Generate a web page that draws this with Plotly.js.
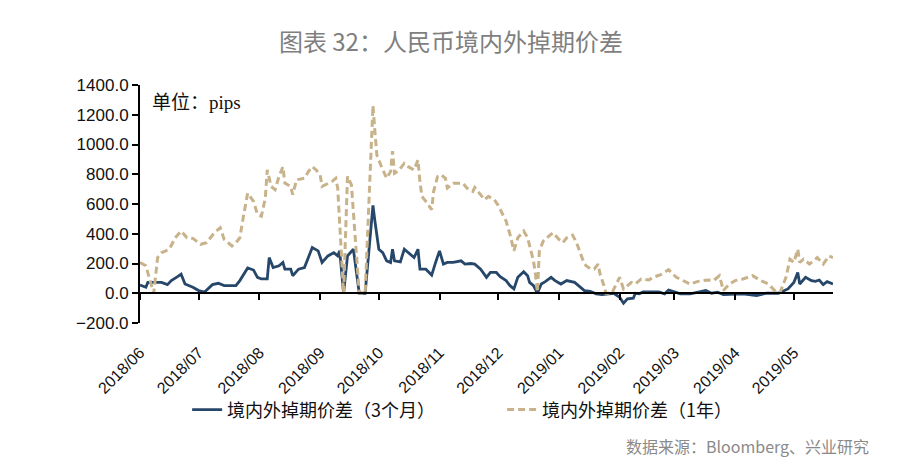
<!DOCTYPE html>
<html>
<head>
<meta charset="utf-8">
<script src="https://cdn.plot.ly/plotly-3.0.1.min.js"></script>
<style>html,body{margin:0;padding:0;background:#fff;}#chart{width:900px;height:469px;}</style>
</head>
<body>
<div id="chart"></div>
<script>
// 境内外掉期价差（3个月）
const dates3m = ["2018-06-01","2018-06-04","2018-06-05","2018-06-09","2018-06-12","2018-06-15","2018-06-17","2018-06-20","2018-06-22","2018-06-24","2018-06-28","2018-07-01","2018-07-04","2018-07-08","2018-07-11","2018-07-14","2018-07-20","2018-07-22","2018-07-26","2018-07-29","2018-07-31","2018-08-02","2018-08-05","2018-08-06","2018-08-08","2018-08-11","2018-08-13","2018-08-14","2018-08-17","2018-08-18","2018-08-21","2018-08-24","2018-08-28","2018-08-31","2018-09-02","2018-09-05","2018-09-08","2018-09-10","2018-09-11","2018-09-13","2018-09-15","2018-09-18","2018-09-21","2018-09-24","2018-09-28","2018-09-29","2018-10-01","2018-10-03","2018-10-05","2018-10-07","2018-10-08","2018-10-09","2018-10-12","2018-10-14","2018-10-16","2018-10-19","2018-10-21","2018-10-22","2018-10-25","2018-10-28","2018-10-30","2018-11-01","2018-11-03","2018-11-05","2018-11-08","2018-11-12","2018-11-14","2018-11-17","2018-11-19","2018-11-22","2018-11-25","2018-11-27","2018-11-30","2018-12-02","2018-12-05","2018-12-07","2018-12-09","2018-12-11","2018-12-14","2018-12-16","2018-12-17","2018-12-19","2018-12-21","2018-12-23","2018-12-25","2018-12-28","2018-12-30","2019-01-02","2019-01-05","2019-01-09","2019-01-11","2019-01-14","2019-01-17","2019-01-20","2019-01-23","2019-01-26","2019-01-29","2019-02-01","2019-02-03","2019-02-05","2019-02-08","2019-02-09","2019-02-11","2019-02-13","2019-02-17","2019-02-21","2019-02-24","2019-02-26","2019-03-01","2019-03-04","2019-03-09","2019-03-13","2019-03-17","2019-03-20","2019-03-23","2019-03-26","2019-03-31","2019-04-05","2019-04-12","2019-04-17","2019-04-23","2019-04-28","2019-05-01","2019-05-03","2019-05-04","2019-05-07","2019-05-10","2019-05-12","2019-05-14","2019-05-16","2019-05-18","2019-05-21"];
const values3m = [55,40,73,73,73,58,85,110,128,62,40,18,8,58,67,51,51,85,170,156,107,96,96,240,173,185,207,162,162,118,162,173,307,285,207,251,273,251,285,0,251,296,0,0,590,485,296,273,218,207,296,218,211,296,273,240,296,162,162,122,207,285,196,207,207,218,196,200,196,162,107,140,140,112,85,51,29,107,145,118,73,51,0,62,78,107,85,62,85,73,51,18,13,-4,-9,-4,0,-27,-67,-38,-33,0,-4,9,11,9,-4,22,9,-4,-4,9,18,0,7,-9,-9,-4,-15,0,0,29,73,140,62,107,85,80,89,58,78,62];

// 境内外掉期价差（1年）
const dates1y = ["2018-06-01","2018-06-04","2018-06-08","2018-06-10","2018-06-12","2018-06-16","2018-06-19","2018-06-22","2018-06-25","2018-06-28","2018-07-02","2018-07-05","2018-07-09","2018-07-12","2018-07-14","2018-07-18","2018-07-20","2018-07-22","2018-07-24","2018-07-26","2018-07-29","2018-07-31","2018-08-02","2018-08-04","2018-08-05","2018-08-07","2018-08-09","2018-08-11","2018-08-13","2018-08-14","2018-08-17","2018-08-18","2018-08-20","2018-08-24","2018-08-26","2018-08-28","2018-08-30","2018-09-01","2018-09-02","2018-09-04","2018-09-07","2018-09-09","2018-09-10","2018-09-13","2018-09-15","2018-09-17","2018-09-21","2018-09-24","2018-09-28","2018-09-29","2018-09-30","2018-10-02","2018-10-05","2018-10-07","2018-10-08","2018-10-09","2018-10-11","2018-10-14","2018-10-16","2018-10-19","2018-10-21","2018-10-22","2018-10-23","2018-10-25","2018-10-28","2018-10-29","2018-10-31","2018-11-02","2018-11-04","2018-11-05","2018-11-08","2018-11-11","2018-11-13","2018-11-15","2018-11-18","2018-11-19","2018-11-22","2018-11-24","2018-11-26","2018-11-29","2018-12-01","2018-12-02","2018-12-05","2018-12-07","2018-12-09","2018-12-11","2018-12-14","2018-12-16","2018-12-17","2018-12-19","2018-12-20","2018-12-21","2018-12-22","2018-12-24","2018-12-27","2018-12-29","2019-01-01","2019-01-03","2019-01-05","2019-01-08","2019-01-10","2019-01-12","2019-01-14","2019-01-16","2019-01-19","2019-01-21","2019-01-22","2019-01-24","2019-01-25","2019-01-28","2019-01-30","2019-02-01","2019-02-03","2019-02-07","2019-02-09","2019-02-12","2019-02-16","2019-02-18","2019-02-22","2019-02-26","2019-03-02","2019-03-06","2019-03-09","2019-03-13","2019-03-18","2019-03-21","2019-03-24","2019-03-26","2019-03-29","2019-04-01","2019-04-05","2019-04-10","2019-04-14","2019-04-18","2019-04-22","2019-04-24","2019-04-27","2019-04-29","2019-05-01","2019-05-03","2019-05-04","2019-05-06","2019-05-09","2019-05-13","2019-05-16","2019-05-19","2019-05-21"];
const values1y = [207,185,0,240,273,296,373,418,373,369,329,340,407,440,362,318,340,373,529,673,618,529,518,640,829,718,696,785,850,740,718,663,763,773,818,851,829,796,718,729,751,773,707,0,785,729,0,0,1262,1085,929,862,773,818,955,807,822,873,851,829,896,751,651,618,562,685,785,796,773,707,740,740,740,707,685,711,663,629,651,629,590,562,485,396,285,373,418,373,318,218,129,7,285,351,385,407,362,340,373,391,340,273,196,173,162,196,129,51,0,0,55,107,29,73,62,96,89,107,125,158,107,80,62,80,89,85,118,18,62,85,96,118,85,62,7,7,107,229,207,296,207,229,196,240,196,251,240];

const yTicks = [-200,0,200,400,600,800,1000,1200,1400];
const seriesNames = ["境内外掉期价差（3个月）","境内外掉期价差（1年）"];
const xRange = ["2018-06-01","2019-05-21"];

const traces = [
  {x: dates3m, y: values3m, name: seriesNames[0], type: "scatter", mode: "lines",
   line: {color: "#26476a", width: 2.8}, xaxis: "x", yaxis: "y"},
  {x: dates1y, y: values1y, name: seriesNames[1], type: "scatter", mode: "lines",
   line: {color: "#c8b28a", width: 3, dash: "7px,4px"}, xaxis: "x", yaxis: "y"},
  {x: dates3m, y: values3m, type: "scatter", mode: "lines", showlegend: false,
   hoverinfo: "skip", opacity: 0, line: {width: 0}, xaxis: "x2", yaxis: "y"}
];

const layout = {
  width: 900, height: 469,
  margin: {l: 140, r: 67, t: 85, b: 146},
  paper_bgcolor: "#ffffff", plot_bgcolor: "#ffffff",
  showlegend: true,
  title: {text: "图表 32：人民币境内外掉期价差", x: 0.501, xref: "container", xanchor: "center",
          y: 0.91, yref: "container", yanchor: "middle",
          font: {family: "Noto Sans CJK SC, sans-serif", size: 24, color: "#7f7f7f"}},
  xaxis: {type: "date", range: xRange, anchor: "free", position: 0.126,
          showline: true, linecolor: "#000", linewidth: 2, showgrid: false, zeroline: false,
          ticks: "outside", ticklen: 6, tickwidth: 2, tickcolor: "#000",
          tick0: "2018-06-01", dtick: "M1", showticklabels: false},
  xaxis2: {type: "date", range: xRange, overlaying: "x", anchor: "y", side: "bottom",
           showline: false, showgrid: false, zeroline: false,
           ticks: "outside", ticklen: 13, tickcolor: "rgba(0,0,0,0)",
           tick0: "2018-06-01", dtick: "M1", tickformat: "%Y/%m", tickangle: -45,
           tickfont: {family: "Liberation Sans, Arial, sans-serif", size: 16, color: "#111"}},
  yaxis: {range: [-200, 1400], tickvals: yTicks, tickformat: ".1f",
          showline: true, linecolor: "#000", linewidth: 2, showgrid: false, zeroline: false,
          ticks: "outside", ticklen: 6, tickwidth: 2, tickcolor: "#000",
          tickfont: {family: "Liberation Sans, Arial, sans-serif", size: 17, color: "#111"}},
  legend: {orientation: "h", x: 0.068, xanchor: "left", y: -0.365, yanchor: "middle",
           font: {family: "Noto Sans CJK SC, sans-serif", size: 18, color: "#111"},
           entrywidth: 270, entrywidthmode: "pixels", bgcolor: "rgba(0,0,0,0)"},
  annotations: [
    {text: "单位：pips", xref: "paper", yref: "paper", x: 0.014, y: 0.925,
     xanchor: "left", yanchor: "middle", showarrow: false,
     font: {family: "Liberation Serif, Noto Sans CJK SC, serif", size: 19, color: "#111"}},
    {text: "数据来源：Bloomberg、兴业研究", xref: "paper", yref: "paper", x: 1.055, y: -0.518,
     xanchor: "right", yanchor: "middle", showarrow: false,
     font: {family: "Noto Sans CJK SC, sans-serif", size: 16, color: "#8a8a8a"}}
  ]
};

Plotly.newPlot("chart", traces, layout, {displayModeBar: false, staticPlot: true});
</script>
</body>
</html>
